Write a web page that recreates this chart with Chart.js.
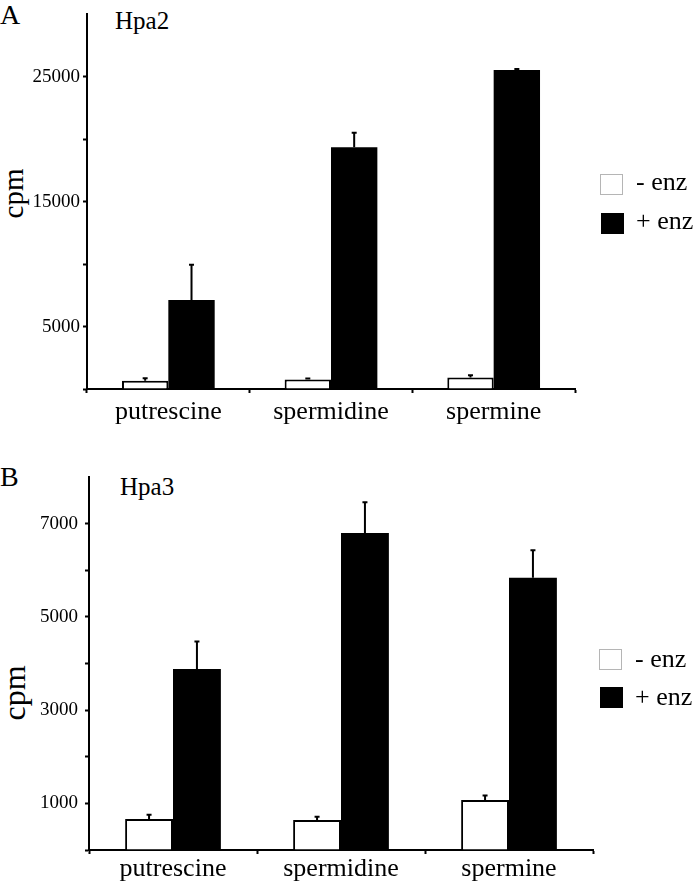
<!DOCTYPE html>
<html>
<head>
<meta charset="utf-8">
<script src="https://cdn.jsdelivr.net/npm/chart.js@4.4.1/dist/chart.umd.min.js"></script>
<style>
  html, body { margin: 0; padding: 0; background: #fff; }
  body { width: 693px; height: 883px; position: relative; overflow: hidden;
         font-family: "Liberation Serif", "Times New Roman", serif; color: #000; }
  .txt { position: absolute; line-height: 1; white-space: nowrap; }
  .rot { text-align: center; transform: rotate(-90deg); transform-origin: 50% 50%; }
  .lg-box { position: absolute; box-sizing: border-box; }
  canvas { position: absolute; left: 0; }
</style>
</head>
<body>
<div class="txt" style="left:0;top:1px;font-size:28px">A</div>
<div class="txt" style="left:115px;top:8px;font-size:25px">Hpa2</div>
<div class="txt rot" style="left:-17px;top:179px;width:60px;font-size:29px">cpm</div>
<canvas id="chartA" width="693" height="440" style="top:0"></canvas>

<div class="txt" style="left:0;top:463px;font-size:28px">B</div>
<div class="txt" style="left:120px;top:474px;font-size:25px">Hpa3</div>
<div class="txt rot" style="left:-16px;top:677px;width:60px;font-size:32px">cpm</div>
<canvas id="chartB" width="693" height="443" style="top:440px"></canvas>

<script>
// data
const categories = ['putrescine', 'spermidine', 'spermine'];
const seriesLabels = ['- enz', '+ enz'];

// panel A - Hpa2
const hpa2Minus = [670, 770, 930];
const hpa2MinusErr = [200, 80, 180];
const hpa2Plus = [7120, 19370, 25550];
const hpa2PlusErr = [2830, 1160, 80];
const hpa2TickLabels = [5000, 15000, 25000];

// panel B - Hpa3
const hpa3Minus = [665, 645, 1070];
const hpa3MinusErr = [90, 70, 100];
const hpa3Plus = [3880, 6800, 5840];
const hpa3PlusErr = [590, 660, 590];
const hpa3TickLabels = [1000, 3000, 5000, 7000];

const FONT = "'Liberation Serif', 'Times New Roman', serif";

// upper error bars with a small cap
const errorBars = {
  id: 'errorBars',
  afterDatasetsDraw(chart) {
    const ctx = chart.ctx;
    const y = chart.scales.y;
    chart.data.datasets.forEach((ds, i) => {
      chart.getDatasetMeta(i).data.forEach((bar, j) => {
        const top = y.getPixelForValue(ds.data[j] + ds.errors[j]);
        ctx.save();
        ctx.strokeStyle = '#000';
        ctx.lineWidth = 2;
        ctx.beginPath();
        ctx.moveTo(bar.x, bar.y);
        ctx.lineTo(bar.x, top);
        ctx.moveTo(bar.x - 2.5, top);
        ctx.lineTo(bar.x + 2.5, top);
        ctx.stroke();
        ctx.restore();
      });
    });
  }
};

function makeChart(id, minus, minusErr, plus, plusErr, o) {
  return new Chart(document.getElementById(id), {
    type: 'bar',
    data: {
      labels: categories,
      datasets: [
        { label: seriesLabels[0], data: minus, errors: minusErr,
          backgroundColor: '#fff', borderColor: '#000', borderWidth: 2 },
        { label: seriesLabels[1], data: plus, errors: plusErr,
          backgroundColor: '#000', borderColor: '#000', borderWidth: 0 }
      ]
    },
    options: {
      responsive: false,
      animation: false,
      devicePixelRatio: 1,
      layout: { padding: o.pad },
      datasets: { bar: { categoryPercentage: 0.57, barPercentage: 1 } },
      plugins: { legend: { display: false }, tooltip: { enabled: false } },
      scales: {
        x: {
          ticks: { color: '#000', font: { family: FONT, size: 26 }, padding: o.xpad,
                   maxRotation: 0, autoSkip: false },
          grid: { drawOnChartArea: false, offset: true, tickLength: 4, tickWidth: 2, tickColor: '#000' },
          border: { color: '#000', width: 2 },
          afterFit: s => { s.height = o.xh; }
        },
        y: {
          min: 0, max: o.max,
          ticks: { stepSize: o.step, color: '#000', font: { family: FONT, size: 19 }, padding: o.ypad,
                   callback: v => o.labels.includes(v) ? String(v) : '' },
          grid: { drawOnChartArea: false, tickLength: 4, tickWidth: 2,
                  tickColor: c => (c.tick && c.tick.value === o.max) ? 'rgba(0,0,0,0)' : '#000' },
          border: { color: '#000', width: 2 },
          afterFit: s => { s.width = o.yw; }
        }
      }
    },
    plugins: [errorBars]
  });
}

function buildLegend(chart, x, y, step, textDy) {
  chart.data.datasets.forEach((ds, i) => {
    const box = document.createElement('div');
    box.className = 'lg-box';
    const edge = ds.backgroundColor === '#fff' ? '#b5b5b5' : '#000';
    box.style.cssText = `left:${x + i}px;top:${y + i * step}px;width:23px;height:21px;` +
      `background:${ds.backgroundColor};border:1px solid ${edge}`;
    document.body.appendChild(box);
    const t = document.createElement('div');
    t.className = 'txt';
    t.style.cssText = `left:${x + 36}px;top:${y + i * step + textDy}px;font-size:26px`;
    t.textContent = ds.label;
    document.body.appendChild(t);
  });
}

const chartA = makeChart('chartA', hpa2Minus, hpa2MinusErr, hpa2Plus, hpa2PlusErr, {
  pad: { left: 0, right: 118, top: 12, bottom: 0 },
  yw: 87, xh: 51, max: 30000, step: 5000, ypad: 3, xpad: 4, labels: hpa2TickLabels
});
const chartB = makeChart('chartB', hpa3Minus, hpa3MinusErr, hpa3Plus, hpa3PlusErr, {
  pad: { left: 0, right: 100, top: 37, bottom: 0 },
  yw: 89, xh: 33, max: 8000, step: 1000, ypad: 7, xpad: 0, labels: hpa3TickLabels
});

buildLegend(chartA, 600, 174, 39, -5);
buildLegend(chartB, 599, 649, 38, -3);
</script>
</body>
</html>
